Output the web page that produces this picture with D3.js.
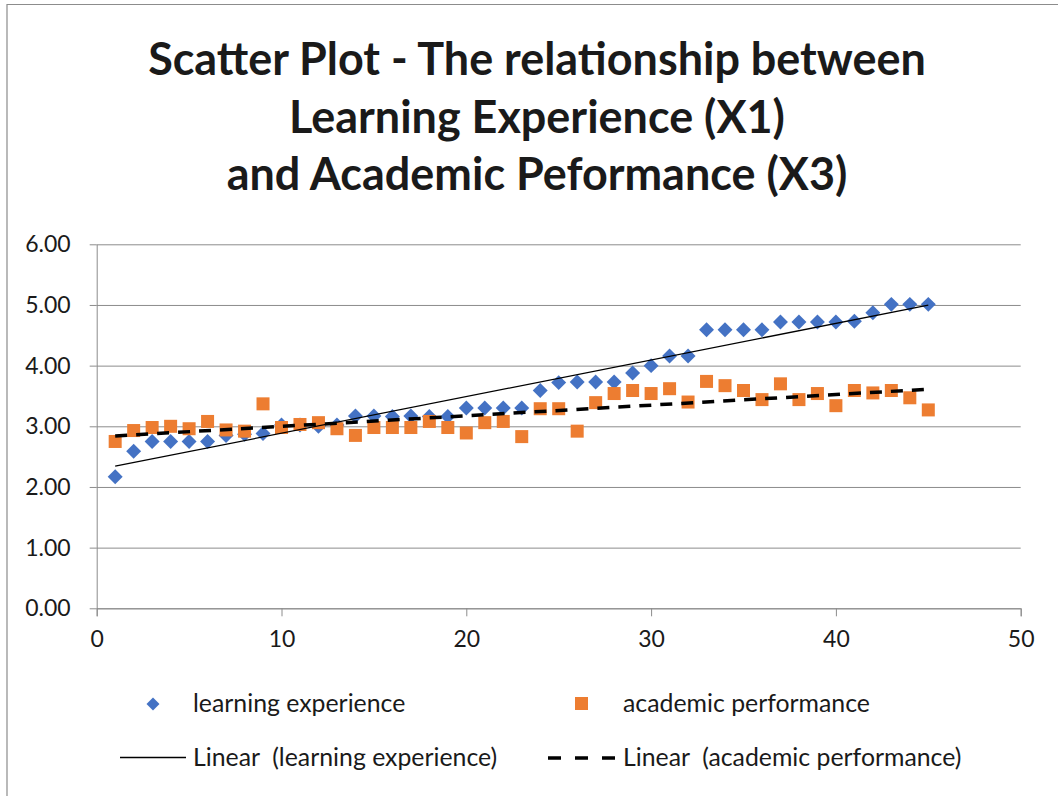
<!DOCTYPE html>
<html>
<head>
<meta charset="utf-8">
<script src="https://cdn.jsdelivr.net/npm/d3@7"></script>
<style>
  body { margin: 0; background: #fff; }
  text { font-family: Lato, "Open Sans", sans-serif; fill: #1a1a1a; }
</style>
</head>
<body>
<div id="chart"></div>
<script>
// data
const xValues = d3.range(1, 46);
const learningExperience = [
  2.17, 2.59, 2.75, 2.75, 2.75, 2.75, 2.85, 2.87, 2.88, 3.02,
  3.02, 3.00, 3.02, 3.17, 3.17, 3.16, 3.17, 3.16, 3.16, 3.30,
  3.30, 3.30, 3.30, 3.59, 3.72, 3.73, 3.73, 3.73, 3.88, 4.00,
  4.16, 4.16, 4.59, 4.59, 4.59, 4.59, 4.72, 4.72, 4.72, 4.72,
  4.73, 4.87, 5.01, 5.01, 5.01
];
const academicPerformance = [
  2.75, 2.93, 2.98, 3.00, 2.96, 3.08, 2.94, 2.92, 3.37, 2.98,
  3.03, 3.06, 2.96, 2.85, 2.98, 2.98, 2.98, 3.08, 2.98, 2.89,
  3.06, 3.08, 2.83, 3.29, 3.29, 2.92, 3.39, 3.54, 3.59, 3.54,
  3.62, 3.40, 3.74, 3.67, 3.59, 3.44, 3.70, 3.44, 3.54, 3.34,
  3.59, 3.55, 3.59, 3.47, 3.27
];
const yTicks = [0, 1, 2, 3, 4, 5, 6];
const xTicks = [0, 10, 20, 30, 40, 50];
const titleLines = [
  "Scatter Plot - The relationship between",
  "Learning Experience (X1)",
  "and Academic Peformance (X3)"
];

const W = 1058, H = 796;
const svg = d3.select('#chart').append('svg').attr('width', W).attr('height', H);

// outer chart border (only left and top edge visible in the crop)
svg.append('path').attr('d', `M7,${H} V4.5 H${W}`)
  .attr('fill', 'none').attr('stroke', '#8c8c8c').attr('stroke-width', 1.2);

const x = d3.scaleLinear().domain([0, 50]).range([96.7, 1020.7]);
const y = d3.scaleLinear().domain([0, 6]).range([608.3, 244.3]);
const gridColor = '#8c8c8c';

// shrink/grow font so a text fits a measured width
function fitWidth(sel, target) {
  let node = sel.node();
  let fs = parseFloat(sel.attr('font-size'));
  let w = node.getComputedTextLength();
  sel.attr('font-size', (fs * target / w).toFixed(2));
}

// title
const titleBase = [75, 133, 190];
titleLines.forEach((t, i) => {
  let tt = svg.append('text').attr('x', 537).attr('y', titleBase[i])
    .attr('text-anchor', 'middle').attr('font-weight', 'bold').attr('font-size', 40)
    .attr('fill', '#000').text(t);
  if (i === 0) fitWidth(tt, 778);
});
// keep same size on all title lines
let titleSize = svg.select('text[font-weight="bold"]').attr('font-size');
svg.selectAll('text[font-weight="bold"]').attr('font-size', titleSize);

// horizontal gridlines
svg.append('g').attr('transform', `translate(${x(0)},0)`)
  .call(d3.axisLeft(y).tickValues(yTicks).tickSize(-(x(50) - x(0))).tickFormat(''))
  .call(g => g.select('.domain').remove())
  .call(g => g.selectAll('line').attr('stroke', gridColor));

// y axis
const yAxis = svg.append('g').attr('transform', `translate(${x(0)},0)`)
  .call(d3.axisLeft(y).tickValues(yTicks).tickFormat(d3.format('.2f'))
    .tickSizeInner(7).tickSizeOuter(0).tickPadding(19));
yAxis.select('.domain').attr('stroke', gridColor);
yAxis.selectAll('line').attr('stroke', gridColor);
yAxis.selectAll('text').attr('font-size', 23).attr('font-family', 'Lato').attr('fill', '#1a1a1a');

// x axis
const xAxis = svg.append('g').attr('transform', `translate(0,${y(0)})`)
  .call(d3.axisBottom(x).tickValues(xTicks).tickSizeInner(8).tickSizeOuter(8).tickPadding(14));
xAxis.select('.domain').attr('stroke', gridColor);
xAxis.selectAll('line').attr('stroke', gridColor);
xAxis.selectAll('text').attr('font-size', 23).attr('font-family', 'Lato').attr('fill', '#1a1a1a');

// least squares trend line
function linearFit(xs, ys) {
  let mx = d3.mean(xs), my = d3.mean(ys);
  let sxy = d3.sum(xs, (v, i) => (v - mx) * (ys[i] - my));
  let sxx = d3.sum(xs, v => (v - mx) * (v - mx));
  let b = sxy / sxx;
  return xv => my + b * (xv - mx);
}
const fitLE = linearFit(xValues, learningExperience);
const fitAP = linearFit(xValues, academicPerformance);
const x0 = d3.min(xValues), x1 = d3.max(xValues);
const line = d3.line().x(d => x(d[0])).y(d => y(d[1]));

// markers: diamonds are squares turned 45 degrees
const diamond = d3.symbol().type(d3.symbolSquare).size(112);
svg.append('g').selectAll('path')
  .data(xValues).enter().append('path')
  .attr('d', diamond)
  .attr('transform', (d, i) => `translate(${x(d)},${y(learningExperience[i])}) rotate(45)`)
  .attr('fill', '#4472c4');

svg.append('g').selectAll('rect')
  .data(xValues).enter().append('rect')
  .attr('x', d => x(d) - 6.5).attr('y', (d, i) => y(academicPerformance[i]) - 6.5)
  .attr('width', 13).attr('height', 13)
  .attr('fill', '#ed7d31');

svg.append('path').datum([[x0, fitLE(x0)], [x1, fitLE(x1)]])
  .attr('d', line).attr('stroke', '#000').attr('stroke-width', 1.3).attr('fill', 'none');
svg.append('path').datum([[x0, fitAP(x0)], [x1, fitAP(x1)]])
  .attr('d', line).attr('stroke', '#000').attr('stroke-width', 3.5)
  .attr('stroke-dasharray', '12,9').attr('fill', 'none');

// legend
const legend = svg.append('g');
legend.append('path').attr('d', d3.symbol().type(d3.symbolSquare).size(84))
  .attr('transform', 'translate(153,704) rotate(45)').attr('fill', '#4472c4');
legend.append('rect').attr('x', 575).attr('y', 697).attr('width', 13).attr('height', 13).attr('fill', '#ed7d31');
legend.append('line').attr('x1', 120).attr('x2', 186).attr('y1', 757.5).attr('y2', 757.5)
  .attr('stroke', '#000').attr('stroke-width', 1.3);
legend.append('line').attr('x1', 548).attr('x2', 616).attr('y1', 758).attr('y2', 758)
  .attr('stroke', '#000').attr('stroke-width', 3.5).attr('stroke-dasharray', '13,14');

const legTexts = [
  { t: 'learning experience', x: 193, y: 712 },
  { t: 'academic performance', x: 623, y: 712, w: 247 },
  { t: 'Linear  (learning experience)', x: 193, y: 766 },
  { t: 'Linear  (academic performance)', x: 623, y: 766 }
];
let legSize = null;
legTexts.forEach(d => {
  let tt = legend.append('text').attr('x', d.x).attr('y', d.y).attr('font-size', 22)
    .attr('xml:space', 'preserve').style('white-space', 'pre').text(d.t);
  if (d.w) { fitWidth(tt, d.w); legSize = tt.attr('font-size'); }
});
legend.selectAll('text').attr('font-size', legSize);
</script>
</body>
</html>
